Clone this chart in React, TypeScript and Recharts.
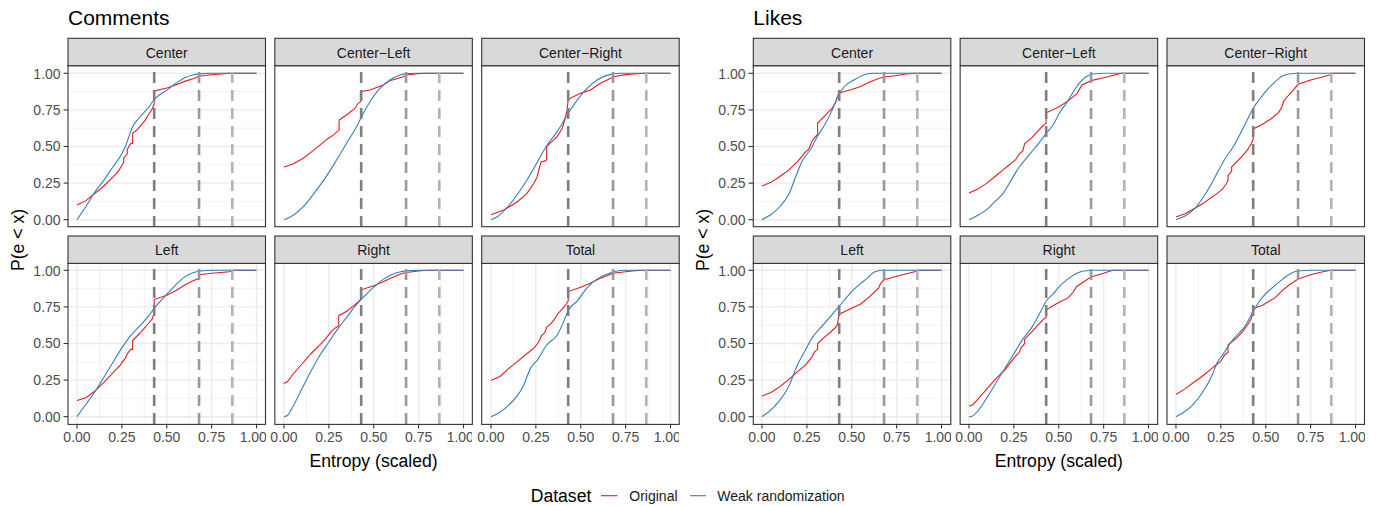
import React from 'react';
import { LineChart, Line, XAxis, YAxis, ReferenceLine, CartesianGrid } from 'recharts';

type Pt = [number, number];

// ---------- labels ----------
const groupTitles = ['Comments', 'Likes'];
const facetLabels = ['Center', 'Center\u2212Left', 'Center\u2212Right', 'Left', 'Right', 'Total'];
const seriesNames = ['Original', 'Weak randomization'];
const legendTitle = 'Dataset';
const xAxisTitle = 'Entropy (scaled)';
const yAxisTitle = 'P(e < x)';
const axisTicks = [0, 0.25, 0.5, 0.75, 1];
const minorTicks = [0.125, 0.375, 0.625, 0.875];
const thresholds = [0.43, 0.68, 0.865];

// ---------- data: Comments ----------
const commentsCenterOriginal: Pt[] = [[0,0.1],[0.05,0.13],[0.1,0.18],[0.15,0.23],[0.2,0.29],[0.23,0.33],[0.25,0.37],[0.26,0.39],[0.26,0.42],[0.28,0.45],[0.28,0.48],[0.3,0.52],[0.31,0.52],[0.31,0.59],[0.34,0.62],[0.36,0.65],[0.38,0.68],[0.4,0.72],[0.42,0.76],[0.43,0.79],[0.43,0.88],[0.5,0.9],[0.55,0.92],[0.6,0.945],[0.65,0.965],[0.68,0.98],[0.75,0.99],[0.8,0.995],[0.85,1],[1,1]];
const commentsCenterWeak: Pt[] = [[0,0],[0.05,0.09],[0.1,0.19],[0.15,0.27],[0.2,0.36],[0.25,0.45],[0.27,0.5],[0.29,0.57],[0.31,0.635],[0.35,0.7],[0.4,0.77],[0.43,0.82],[0.5,0.885],[0.55,0.93],[0.6,0.97],[0.65,0.99],[0.7,0.998],[0.75,1],[1,1]];
const commentsCenterLeftOriginal: Pt[] = [[0,0.36],[0.05,0.38],[0.106,0.418],[0.15,0.46],[0.2,0.509],[0.24,0.55],[0.274,0.578],[0.307,0.612],[0.307,0.68],[0.348,0.715],[0.395,0.76],[0.413,0.795],[0.426,0.806],[0.426,0.874],[0.479,0.886],[0.553,0.92],[0.59,0.95],[0.665,0.977],[0.683,0.989],[0.74,0.998],[0.8,1],[1,1]];
const commentsCenterLeftWeak: Pt[] = [[0,0],[0.03,0.015],[0.106,0.087],[0.18,0.2],[0.246,0.315],[0.292,0.406],[0.348,0.52],[0.404,0.635],[0.441,0.726],[0.479,0.806],[0.534,0.897],[0.59,0.954],[0.646,0.989],[0.683,0.998],[0.75,1],[1,1]];
const commentsCenterRightOriginal: Pt[] = [[0,0.034],[0.069,0.064],[0.145,0.121],[0.2,0.178],[0.238,0.247],[0.257,0.292],[0.266,0.338],[0.279,0.395],[0.3,0.4],[0.31,0.41],[0.31,0.5],[0.335,0.53],[0.368,0.566],[0.396,0.623],[0.414,0.692],[0.424,0.749],[0.43,0.822],[0.498,0.863],[0.554,0.886],[0.61,0.932],[0.684,0.977],[0.758,0.993],[0.851,1],[1,1]];
const commentsCenterRightWeak: Pt[] = [[0,0],[0.033,0.018],[0.108,0.11],[0.182,0.235],[0.238,0.349],[0.312,0.509],[0.368,0.6],[0.424,0.715],[0.48,0.817],[0.535,0.897],[0.591,0.954],[0.665,0.993],[0.72,1],[1,1]];
const commentsLeftOriginal: Pt[] = [[0,0.11],[0.05,0.13],[0.1,0.175],[0.15,0.235],[0.2,0.3],[0.24,0.35],[0.25,0.37],[0.27,0.4],[0.28,0.43],[0.3,0.46],[0.31,0.46],[0.31,0.52],[0.35,0.57],[0.4,0.64],[0.42,0.67],[0.43,0.71],[0.43,0.8],[0.5,0.83],[0.55,0.86],[0.6,0.9],[0.65,0.93],[0.68,0.945],[0.68,0.97],[0.75,0.98],[0.85,0.99],[0.87,1],[1,1]];
const commentsLeftWeak: Pt[] = [[0,0],[0.05,0.085],[0.1,0.17],[0.15,0.27],[0.2,0.37],[0.25,0.47],[0.3,0.555],[0.35,0.62],[0.4,0.69],[0.43,0.74],[0.5,0.835],[0.55,0.9],[0.6,0.955],[0.65,0.985],[0.7,0.997],[0.75,1],[1,1]];
const commentsRightOriginal: Pt[] = [[0,0.227],[0.02,0.24],[0.05,0.29],[0.1,0.36],[0.15,0.43],[0.2,0.49],[0.23,0.53],[0.25,0.56],[0.27,0.59],[0.29,0.61],[0.305,0.62],[0.305,0.69],[0.35,0.72],[0.38,0.75],[0.41,0.78],[0.426,0.8],[0.426,0.865],[0.5,0.895],[0.55,0.92],[0.6,0.95],[0.65,0.975],[0.68,0.985],[0.75,0.995],[0.8,1],[1,1]];
const commentsRightWeak: Pt[] = [[0,0],[0.02,0.01],[0.05,0.07],[0.1,0.19],[0.15,0.31],[0.2,0.42],[0.25,0.51],[0.3,0.6],[0.35,0.68],[0.4,0.76],[0.43,0.8],[0.5,0.885],[0.55,0.935],[0.6,0.97],[0.65,0.99],[0.7,0.998],[0.75,1],[1,1]];
const commentsTotalOriginal: Pt[] = [[0,0.248],[0.05,0.275],[0.1,0.33],[0.15,0.38],[0.2,0.43],[0.24,0.47],[0.26,0.5],[0.27,0.52],[0.28,0.55],[0.3,0.575],[0.31,0.61],[0.33,0.63],[0.35,0.66],[0.37,0.7],[0.4,0.74],[0.42,0.77],[0.43,0.79],[0.43,0.855],[0.5,0.885],[0.55,0.91],[0.6,0.94],[0.65,0.965],[0.68,0.98],[0.75,0.99],[0.8,0.998],[0.85,1],[1,1]];
const commentsTotalWeak: Pt[] = [[0,0],[0.05,0.03],[0.1,0.08],[0.145,0.14],[0.18,0.21],[0.22,0.33],[0.26,0.39],[0.31,0.49],[0.37,0.56],[0.405,0.65],[0.43,0.725],[0.48,0.79],[0.535,0.88],[0.59,0.94],[0.65,0.975],[0.685,0.99],[0.75,1],[1,1]];

// ---------- data: Likes ----------
const likesCenterOriginal: Pt[] = [[0,0.23],[0.05,0.255],[0.1,0.295],[0.15,0.34],[0.2,0.4],[0.24,0.46],[0.26,0.48],[0.28,0.54],[0.3,0.57],[0.31,0.58],[0.31,0.66],[0.35,0.71],[0.39,0.76],[0.41,0.8],[0.42,0.84],[0.43,0.865],[0.5,0.89],[0.55,0.91],[0.6,0.94],[0.65,0.965],[0.68,0.975],[0.75,0.985],[0.8,0.995],[0.85,1],[1,1]];
const likesCenterWeak: Pt[] = [[0,0],[0.05,0.035],[0.1,0.09],[0.15,0.175],[0.19,0.3],[0.22,0.39],[0.28,0.5],[0.3,0.55],[0.35,0.65],[0.39,0.745],[0.425,0.85],[0.46,0.91],[0.52,0.96],[0.57,0.99],[0.62,1],[1,1]];
const likesCenterLeftOriginal: Pt[] = [[0,0.182],[0.05,0.21],[0.1,0.25],[0.15,0.3],[0.19,0.34],[0.22,0.37],[0.24,0.39],[0.26,0.41],[0.28,0.45],[0.3,0.47],[0.31,0.52],[0.35,0.56],[0.38,0.6],[0.41,0.64],[0.43,0.66],[0.43,0.73],[0.5,0.77],[0.55,0.81],[0.6,0.86],[0.63,0.92],[0.68,0.95],[0.75,0.97],[0.8,0.985],[0.85,1],[1,1]];
const likesCenterLeftWeak: Pt[] = [[0,0],[0.05,0.03],[0.1,0.07],[0.15,0.13],[0.19,0.18],[0.23,0.26],[0.28,0.36],[0.34,0.45],[0.4,0.54],[0.43,0.59],[0.47,0.65],[0.5,0.72],[0.55,0.81],[0.6,0.91],[0.65,0.975],[0.69,0.995],[0.75,1],[1,1]];
const likesCenterRightOriginal: Pt[] = [[0,0.018],[0.05,0.04],[0.1,0.075],[0.15,0.11],[0.2,0.155],[0.23,0.18],[0.26,0.21],[0.28,0.245],[0.29,0.27],[0.29,0.3],[0.31,0.33],[0.31,0.36],[0.35,0.41],[0.38,0.45],[0.4,0.48],[0.42,0.52],[0.43,0.55],[0.43,0.62],[0.48,0.65],[0.53,0.69],[0.57,0.73],[0.59,0.77],[0.6,0.81],[0.62,0.84],[0.65,0.88],[0.68,0.925],[0.75,0.955],[0.8,0.97],[0.86,0.99],[0.88,1],[1,1]];
const likesCenterRightWeak: Pt[] = [[0,0],[0.05,0.025],[0.1,0.07],[0.15,0.15],[0.2,0.25],[0.23,0.32],[0.27,0.41],[0.32,0.5],[0.38,0.64],[0.43,0.76],[0.47,0.83],[0.51,0.89],[0.55,0.94],[0.59,0.98],[0.63,0.995],[0.68,1],[1,1]];
const likesLeftOriginal: Pt[] = [[0,0.141],[0.05,0.165],[0.1,0.205],[0.15,0.255],[0.2,0.31],[0.24,0.35],[0.26,0.38],[0.28,0.41],[0.29,0.44],[0.31,0.46],[0.31,0.5],[0.35,0.545],[0.38,0.575],[0.41,0.61],[0.42,0.63],[0.43,0.7],[0.5,0.74],[0.55,0.77],[0.6,0.82],[0.65,0.88],[0.66,0.91],[0.68,0.935],[0.75,0.96],[0.8,0.975],[0.85,0.99],[0.87,1],[1,1]];
const likesLeftWeak: Pt[] = [[0,0],[0.07,0.07],[0.15,0.21],[0.2,0.36],[0.24,0.45],[0.28,0.54],[0.32,0.6],[0.35,0.64],[0.43,0.755],[0.5,0.855],[0.55,0.91],[0.58,0.94],[0.63,0.99],[0.68,1],[1,1]];
const likesRightOriginal: Pt[] = [[0,0.073],[0.02,0.08],[0.05,0.12],[0.1,0.19],[0.15,0.26],[0.2,0.32],[0.25,0.4],[0.28,0.44],[0.29,0.47],[0.31,0.5],[0.31,0.53],[0.35,0.58],[0.38,0.62],[0.41,0.66],[0.43,0.68],[0.43,0.73],[0.5,0.78],[0.55,0.81],[0.58,0.85],[0.6,0.89],[0.65,0.93],[0.68,0.955],[0.75,0.98],[0.8,1],[1,1]];
const likesRightWeak: Pt[] = [[0,0],[0.02,0.005],[0.05,0.04],[0.1,0.13],[0.15,0.23],[0.2,0.33],[0.25,0.43],[0.3,0.53],[0.35,0.61],[0.4,0.72],[0.43,0.79],[0.47,0.84],[0.5,0.885],[0.55,0.94],[0.6,0.98],[0.65,0.997],[0.7,1],[1,1]];
const likesTotalOriginal: Pt[] = [[0,0.152],[0.05,0.19],[0.1,0.235],[0.15,0.28],[0.2,0.33],[0.23,0.36],[0.25,0.38],[0.27,0.42],[0.29,0.44],[0.29,0.49],[0.31,0.51],[0.34,0.54],[0.37,0.58],[0.4,0.63],[0.42,0.67],[0.43,0.74],[0.48,0.76],[0.52,0.79],[0.55,0.81],[0.59,0.86],[0.63,0.9],[0.68,0.94],[0.75,0.97],[0.8,0.985],[0.86,1],[1,1]];
const likesTotalWeak: Pt[] = [[0,0],[0.05,0.035],[0.1,0.09],[0.15,0.17],[0.2,0.28],[0.23,0.37],[0.27,0.44],[0.3,0.5],[0.35,0.57],[0.38,0.61],[0.43,0.72],[0.46,0.78],[0.5,0.84],[0.55,0.895],[0.6,0.945],[0.65,0.985],[0.68,0.995],[0.75,1],[1,1]];

const commentsFacets = [
  { orig: commentsCenterOriginal, weak: commentsCenterWeak },
  { orig: commentsCenterLeftOriginal, weak: commentsCenterLeftWeak },
  { orig: commentsCenterRightOriginal, weak: commentsCenterRightWeak },
  { orig: commentsLeftOriginal, weak: commentsLeftWeak },
  { orig: commentsRightOriginal, weak: commentsRightWeak },
  { orig: commentsTotalOriginal, weak: commentsTotalWeak },
];
const likesFacets = [
  { orig: likesCenterOriginal, weak: likesCenterWeak },
  { orig: likesCenterLeftOriginal, weak: likesCenterLeftWeak },
  { orig: likesCenterRightOriginal, weak: likesCenterRightWeak },
  { orig: likesLeftOriginal, weak: likesLeftWeak },
  { orig: likesRightOriginal, weak: likesRightWeak },
  { orig: likesTotalOriginal, weak: likesTotalWeak },
];
const groups = [commentsFacets, likesFacets];

// ---------- style / layout ----------
const RED = '#E41A1C';
const BLUE = '#377EB8';
const seriesColors = [RED, BLUE];
const thresholdColors = ['#7f7f7f', '#999999', '#b3b3b3'];
const FONT = '"Liberation Sans", Arial, Helvetica, sans-serif';
const GROUP_LEFT = [68, 753.3];
const COL_STEP = 206.85;
const PANEL_W = 197.5;
const STRIP_TOP = [38.3, 236];
const STRIP_H = 27.4;
const PANEL_H = 161;
const AX_W = 60;
const AX_H = 30;
const DOMAIN: [number, number] = [-0.05, 1.05];

const toObj = (a: Pt[]) => a.map(([x, y]) => ({ x, y }));
const fmt = (v: number) => v.toFixed(2);

function Facet({ left, top, orig, weak, showY, showX }: { left: number; top: number; orig: Pt[]; weak: Pt[]; showY: boolean; showX: boolean }) {
  const w = PANEL_W + AX_W;
  const h = PANEL_H + AX_H;
  return (
    <div style={{ position: 'absolute', left: left - AX_W, top, width: w, height: h }}>
      <LineChart width={w} height={h} margin={{ top: 0, right: 0, bottom: 0, left: 0 }}>
        <CartesianGrid stroke="#EDEDED" strokeWidth={0.7} horizontalValues={minorTicks} verticalValues={minorTicks} />
        <CartesianGrid stroke="#EBEBEB" strokeWidth={1.4} horizontalValues={axisTicks} verticalValues={axisTicks} />
        <XAxis
          type="number"
          dataKey="x"
          domain={DOMAIN}
          ticks={axisTicks}
          allowDataOverflow
          height={AX_H}
          axisLine={false}
          tickSize={4.4}
          tickMargin={4}
          tickLine={showX ? { stroke: '#333333', strokeWidth: 1.1 } : false}
          tick={showX ? { fill: '#4D4D4D', fontSize: 14, fontFamily: FONT } : false}
          tickFormatter={fmt}
        />
        <YAxis
          type="number"
          dataKey="y"
          domain={DOMAIN}
          ticks={axisTicks}
          allowDataOverflow
          width={AX_W}
          axisLine={false}
          tickSize={4.4}
          tickMargin={3}
          tickLine={showY ? { stroke: '#333333', strokeWidth: 1.1 } : false}
          tick={showY ? { fill: '#4D4D4D', fontSize: 14, fontFamily: FONT } : false}
          tickFormatter={fmt}
        />
        <Line data={toObj(orig)} dataKey="y" type="linear" stroke={RED} strokeWidth={1.1} dot={false} activeDot={false} isAnimationActive={false} />
        <Line data={toObj(weak)} dataKey="y" type="monotone" stroke={BLUE} strokeWidth={1.1} dot={false} activeDot={false} isAnimationActive={false} />
        {thresholds.map((t, i) => (
          <ReferenceLine key={'t' + i} x={t} stroke={thresholdColors[i]} strokeWidth={2.6} strokeDasharray="11 7" />
        ))}
      </LineChart>
    </div>
  );
}

export default function App() {
  const panels: { g: number; i: number; left: number; stripTop: number }[] = [];
  groups.forEach((_, g) => {
    for (let i = 0; i < 6; i++) {
      const col = i % 3;
      const row = Math.floor(i / 3);
      panels.push({ g, i, left: GROUP_LEFT[g] + col * COL_STEP, stripTop: STRIP_TOP[row] });
    }
  });
  const groupWidth = 2 * COL_STEP + PANEL_W;
  return (
    <div style={{ position: 'absolute', left: 0, top: 0, width: 1383, height: 506, background: '#fff', fontFamily: FONT, overflow: 'hidden' }}>
      {panels.map((p) => (
        <Facet
          key={p.g + '-' + p.i}
          left={p.left}
          top={p.stripTop + STRIP_H}
          orig={groups[p.g][p.i].orig}
          weak={groups[p.g][p.i].weak}
          showY={p.i % 3 === 0}
          showX={p.i >= 3}
        />
      ))}
      <svg width={1383} height={506} style={{ position: 'absolute', left: 0, top: 0, pointerEvents: 'none' }} fontFamily={FONT}>
        {panels.map((p) => (
          <g key={'s' + p.g + '-' + p.i}>
            <rect x={p.left} y={p.stripTop + STRIP_H} width={PANEL_W} height={PANEL_H} fill="none" stroke="#333333" strokeWidth={1.1} />
            <rect x={p.left} y={p.stripTop} width={PANEL_W} height={STRIP_H} fill="#D9D9D9" stroke="#333333" strokeWidth={1.1} />
            <text x={p.left + PANEL_W / 2} y={p.stripTop + STRIP_H / 2 + 0.5} textAnchor="middle" dominantBaseline="central" fontSize={14} fill="#1A1A1A">
              {facetLabels[p.i]}
            </text>
          </g>
        ))}
        {groupTitles.map((t, g) => (
          <g key={'g' + g}>
            <text x={GROUP_LEFT[g]} y={25} fontSize={21} fill="#000">{t}</text>
            <text x={GROUP_LEFT[g] + groupWidth / 2} y={461} textAnchor="middle" dominantBaseline="central" fontSize={17.6} fill="#000">{xAxisTitle}</text>
            <text
              x={0}
              y={0}
              transform={`translate(${GROUP_LEFT[g] - 50},240) rotate(-90)`}
              textAnchor="middle"
              dominantBaseline="central"
              fontSize={17.6}
              fill="#000"
            >
              {yAxisTitle}
            </text>
          </g>
        ))}
        <text x={530.7} y={495.7} dominantBaseline="central" fontSize={17.6} fill="#000">{legendTitle}</text>
        <line x1={601} x2={617.3} y1={495.7} y2={495.7} stroke={seriesColors[0]} strokeWidth={1.1} />
        <text x={629.3} y={495.7} dominantBaseline="central" fontSize={14} fill="#1A1A1A">{seriesNames[0]}</text>
        <line x1={690} x2={706} y1={495.7} y2={495.7} stroke={seriesColors[1]} strokeWidth={1.1} />
        <text x={717.3} y={495.7} dominantBaseline="central" fontSize={14} fill="#1A1A1A">{seriesNames[1]}</text>
      </svg>
    </div>
  );
}
